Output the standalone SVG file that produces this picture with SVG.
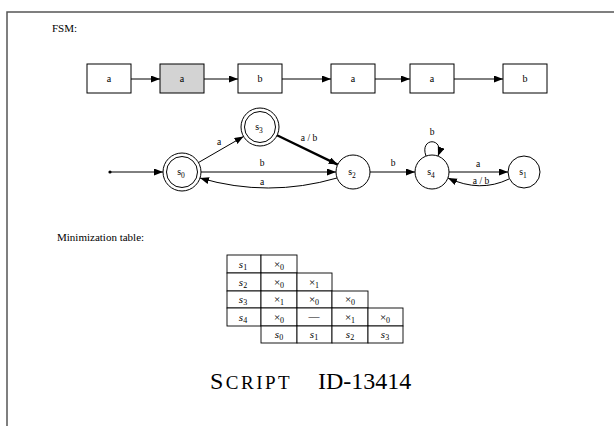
<svg xmlns="http://www.w3.org/2000/svg" width="614" height="426" viewBox="0 0 614 426">
  <style>
    text { font-family: "Liberation Serif", "DejaVu Serif", serif; fill: #000; }
    .box { fill: #fff; stroke: #000; stroke-width: 1; }
    .box.hl { fill: #d3d3d3; }
    .edge { fill: none; stroke: #000; stroke-width: 1; }
    .bold { stroke-width: 2.3; }
    .st { fill: #fff; stroke: #000; stroke-width: 1; }
    .lbl { font-size: 10px; text-anchor: middle; }
    .elbl { font-size: 9.5px; text-anchor: middle; }
    .cell { fill: #fff; stroke: #000; stroke-width: 0.9; }
    .tc { font-size: 11px; text-anchor: middle; }
    .m { font-style: italic; }
  </style>
  <defs>
    <marker id="ah" markerUnits="userSpaceOnUse" markerWidth="10" markerHeight="8" refX="9" refY="3.5" orient="auto">
      <path d="M0,0 L9,3.5 L0,7 z" fill="#000"/>
    </marker>
  </defs>

  <rect width="614" height="426" fill="#fff"/>
  <!-- outer frame, open to the right and bottom -->
  <rect x="7" y="12" width="640" height="440" fill="none" stroke="#555" stroke-width="1.5"/>

  <text x="52" y="32" font-size="11">FSM:</text>

  <!-- input tape -->
  <g id="connectors-tape">
    <line class="edge" x1="131" y1="79" x2="160" y2="79" marker-end="url(#ah)"/>
    <line class="edge" x1="204" y1="79" x2="238" y2="79" marker-end="url(#ah)"/>
    <line class="edge" x1="282" y1="79" x2="331" y2="79" marker-end="url(#ah)"/>
    <line class="edge" x1="375" y1="79" x2="410" y2="79" marker-end="url(#ah)"/>
    <line class="edge" x1="454" y1="79" x2="503" y2="79" marker-end="url(#ah)"/>
  </g>
  <g id="t1"><rect class="box" x="87" y="64" width="44" height="29"/><text class="lbl" x="109" y="82">a</text></g>
  <g id="t2"><rect class="box hl" x="160" y="64" width="44" height="29"/><text class="lbl" x="182" y="82">a</text></g>
  <g id="t3"><rect class="box" x="238" y="64" width="44" height="29"/><text class="lbl" x="260" y="82">b</text></g>
  <g id="t4"><rect class="box" x="331" y="64" width="44" height="29"/><text class="lbl" x="353" y="82">a</text></g>
  <g id="t5"><rect class="box" x="410" y="64" width="44" height="29"/><text class="lbl" x="432" y="82">a</text></g>
  <g id="t6"><rect class="box" x="503" y="64" width="44" height="29"/><text class="lbl" x="525" y="82">b</text></g>

  <!-- state machine transitions -->
  <g id="connectors-fsm">
    <circle cx="110" cy="172" r="1.6" fill="#000"/>
    <line class="edge" x1="110" y1="172" x2="163" y2="172" marker-end="url(#ah)"/>
    <line class="edge" x1="198.5" y1="162.5" x2="243.5" y2="136.5" marker-end="url(#ah)"/>
    <text class="elbl" x="219" y="145">a</text>
    <line class="edge bold" x1="277" y1="135.3" x2="337.7" y2="164.6" marker-end="url(#ah)"/>
    <text class="elbl" x="309" y="141">a / b</text>
    <line class="edge" x1="201" y1="172" x2="336" y2="172" marker-end="url(#ah)"/>
    <text class="elbl" x="262" y="166">b</text>
    <path class="edge" d="M337,178 Q268,198 200,178" marker-end="url(#ah)"/>
    <text class="elbl" x="262" y="185">a</text>
    <line class="edge" x1="370" y1="172" x2="415" y2="172" marker-end="url(#ah)"/>
    <text class="elbl" x="393" y="166">b</text>
    <path class="edge" d="M426,156 C419,137 445,137 438,156" marker-end="url(#ah)"/>
    <text class="elbl" x="432" y="135">b</text>
    <line class="edge" x1="449" y1="172" x2="508" y2="172" marker-end="url(#ah)"/>
    <text class="elbl" x="478" y="167">a</text>
    <path class="edge" d="M509,179 Q480,193 448,178" marker-end="url(#ah)"/>
    <text class="elbl" x="481" y="184">a / b</text>
  </g>

  <g id="s0"><circle class="st" cx="182" cy="172" r="19"/><circle class="st" cx="182" cy="172" r="15.5"/><text class="lbl" x="181" y="175">s<tspan font-size="7.5" dy="2.5">0</tspan></text></g>
  <g id="s3"><circle class="st" cx="260" cy="127" r="19"/><circle class="st" cx="260" cy="127" r="15.5" fill="#d3d3d3"/><text class="lbl" x="259" y="130">s<tspan font-size="7.5" dy="2.5">3</tspan></text></g>
  <g id="s2"><circle class="st" cx="353" cy="172" r="17"/><text class="lbl" x="352" y="175">s<tspan font-size="7.5" dy="2.5">2</tspan></text></g>
  <g id="s4"><circle class="st" cx="432" cy="172" r="17"/><text class="lbl" x="431" y="175">s<tspan font-size="7.5" dy="2.5">4</tspan></text></g>
  <g id="s1"><circle class="st" cx="524" cy="172" r="16"/><text class="lbl" x="523" y="175">s<tspan font-size="7.5" dy="2.5">1</tspan></text></g>

  <text x="57" y="241" font-size="11">Minimization table:</text>

  <!-- minimization table -->
  <g id="table">
    <rect class="cell" x="227" y="255" width="34" height="18"/>
    <rect class="cell" x="261" y="255" width="36" height="18"/>
    <rect class="cell" x="227" y="273" width="34" height="18"/>
    <rect class="cell" x="261" y="273" width="36" height="18"/>
    <rect class="cell" x="297" y="273" width="35" height="18"/>
    <rect class="cell" x="227" y="291" width="34" height="17"/>
    <rect class="cell" x="261" y="291" width="36" height="17"/>
    <rect class="cell" x="297" y="291" width="35" height="17"/>
    <rect class="cell" x="332" y="291" width="36" height="17"/>
    <rect class="cell" x="227" y="308" width="34" height="18"/>
    <rect class="cell" x="261" y="308" width="36" height="18"/>
    <rect class="cell" x="297" y="308" width="35" height="18"/>
    <rect class="cell" x="332" y="308" width="36" height="18"/>
    <rect class="cell" x="368" y="308" width="35" height="18"/>
    <rect class="cell" x="261" y="326" width="36" height="17"/>
    <rect class="cell" x="297" y="326" width="35" height="17"/>
    <rect class="cell" x="332" y="326" width="36" height="17"/>
    <rect class="cell" x="368" y="326" width="35" height="17"/>

    <text class="tc" x="243" y="268"><tspan class="m">s</tspan><tspan font-size="8" dy="2">1</tspan></text>
    <text class="tc" x="279" y="268">×<tspan font-size="8" dy="2">0</tspan></text>

    <text class="tc" x="243" y="286"><tspan class="m">s</tspan><tspan font-size="8" dy="2">2</tspan></text>
    <text class="tc" x="279" y="286">×<tspan font-size="8" dy="2">0</tspan></text>
    <text class="tc" x="314" y="286">×<tspan font-size="8" dy="2">1</tspan></text>

    <text class="tc" x="243" y="303"><tspan class="m">s</tspan><tspan font-size="8" dy="2">3</tspan></text>
    <text class="tc" x="279" y="303">×<tspan font-size="8" dy="2">1</tspan></text>
    <text class="tc" x="314" y="303">×<tspan font-size="8" dy="2">0</tspan></text>
    <text class="tc" x="350" y="303">×<tspan font-size="8" dy="2">0</tspan></text>

    <text class="tc" x="243" y="321"><tspan class="m">s</tspan><tspan font-size="8" dy="2">4</tspan></text>
    <text class="tc" x="279" y="321">×<tspan font-size="8" dy="2">0</tspan></text>
    <text class="tc" x="314" y="320">—</text>
    <text class="tc" x="350" y="321">×<tspan font-size="8" dy="2">1</tspan></text>
    <text class="tc" x="385" y="321">×<tspan font-size="8" dy="2">0</tspan></text>

    <text class="tc" x="279" y="338"><tspan class="m">s</tspan><tspan font-size="8" dy="2">0</tspan></text>
    <text class="tc" x="314" y="338"><tspan class="m">s</tspan><tspan font-size="8" dy="2">1</tspan></text>
    <text class="tc" x="350" y="338"><tspan class="m">s</tspan><tspan font-size="8" dy="2">2</tspan></text>
    <text class="tc" x="385" y="338"><tspan class="m">s</tspan><tspan font-size="8" dy="2">3</tspan></text>
  </g>

  <text x="210" y="389" font-size="24" letter-spacing="2.5">S<tspan font-size="19">CRIPT</tspan></text>
  <text x="318" y="389" font-size="24">ID-13414</text>
</svg>
